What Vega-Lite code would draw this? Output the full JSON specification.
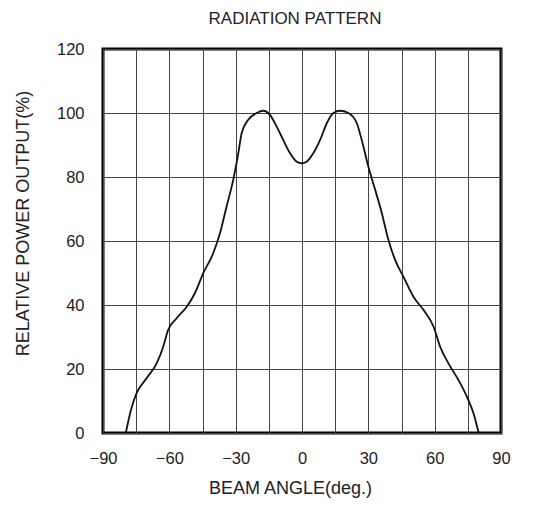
{
  "$schema": "https://vega.github.io/schema/vega-lite/v6.json",
  "width": 398,
  "height": 384,
  "autosize": {"type": "none"},
  "padding": {"left": 103, "top": 49, "right": 37, "bottom": 72},
  "background": "white",
  "config": {
    "font": "Liberation Sans, Arial",
    "view": {"stroke": "#000", "strokeWidth": 3},
    "axis": {"domain": false, "ticks": false, "gridColor": "#444", "gridOpacity": 1, "gridWidth": 1, "labelFont": "Liberation Sans, Arial", "labelFontSize": 16.5, "labelColor": "#222", "titleFont": "Liberation Sans, Arial", "titleFontSize": 18, "titleFontWeight": "normal", "titleColor": "#222"}
  },
  "title": {"text": "RADIATION PATTERN", "fontSize": 17, "fontWeight": "normal", "color": "#222", "font": "Liberation Sans, Arial", "offset": 13, "dx": -7},
  "data": {"values": [
    {"angle": -79.7, "power": 0},
    {"angle": -77.2, "power": 7.6},
    {"angle": -74.9, "power": 12.3},
    {"angle": -70.4, "power": 17},
    {"angle": -65.8, "power": 21.7},
    {"angle": -62.8, "power": 26.9},
    {"angle": -60.6, "power": 32.1},
    {"angle": -56.8, "power": 35.8},
    {"angle": -52.2, "power": 39.4},
    {"angle": -48.5, "power": 43.6},
    {"angle": -44.7, "power": 49.9},
    {"angle": -40.2, "power": 56.1},
    {"angle": -37.1, "power": 62.4},
    {"angle": -34.1, "power": 70.8},
    {"angle": -31.1, "power": 79.1},
    {"angle": -28.8, "power": 87.4},
    {"angle": -27.3, "power": 93.7},
    {"angle": -24.3, "power": 97.9},
    {"angle": -20.5, "power": 100},
    {"angle": -17.5, "power": 100.7},
    {"angle": -14.5, "power": 99.4},
    {"angle": -11.5, "power": 95.8},
    {"angle": -8.5, "power": 91.6},
    {"angle": -5.4, "power": 87.4},
    {"angle": -2.4, "power": 84.8},
    {"angle": -0.1, "power": 84.3},
    {"angle": 2.1, "power": 84.8},
    {"angle": 5.1, "power": 87.4},
    {"angle": 8.2, "power": 91.6},
    {"angle": 11.2, "power": 96.8},
    {"angle": 14.2, "power": 100},
    {"angle": 17.2, "power": 100.7},
    {"angle": 21, "power": 100},
    {"angle": 24.8, "power": 96.8},
    {"angle": 27, "power": 91.6},
    {"angle": 30, "power": 83.3},
    {"angle": 33.1, "power": 76},
    {"angle": 36.1, "power": 68.7},
    {"angle": 39.1, "power": 60.3},
    {"angle": 42.1, "power": 54.1},
    {"angle": 45.9, "power": 48.8},
    {"angle": 50.4, "power": 42.6},
    {"angle": 55, "power": 38.4},
    {"angle": 59.5, "power": 33.2},
    {"angle": 62.5, "power": 26.9},
    {"angle": 66.3, "power": 21.7},
    {"angle": 70.8, "power": 16.5},
    {"angle": 74.6, "power": 11.3},
    {"angle": 77.6, "power": 6.1},
    {"angle": 79.9, "power": 0}
  ]},
  "layer": [
    {
      "mark": {"type": "line", "color": "#111", "strokeWidth": 1.8, "interpolate": "monotone"},
      "encoding": {
        "x": {"field": "angle", "type": "quantitative", "scale": {"domain": [-90, 90], "nice": false},
          "axis": {"title": "BEAM ANGLE(deg.)", "values": [-90, -75, -60, -45, -30, -15, 0, 15, 30, 45, 60, 75, 90], "labelFlush": false, "labelOverlap": false, "labelPadding": 17, "labelExpr": "datum.value % 30 == 0 ? replace(datum.label, '-', '\u2212') : ''", "titleX": 187, "titleY": 55, "titleBaseline": "middle", "titleAlign": "center"}},
        "y": {"field": "power", "type": "quantitative", "scale": {"domain": [0, 120], "nice": false},
          "axis": {"title": "RELATIVE POWER OUTPUT(%)", "values": [0, 20, 40, 60, 80, 100, 120], "labelFlush": false, "labelPadding": 19, "titleX": -80, "titleY": 174, "titleBaseline": "middle", "titleAlign": "center", "titleAngle": -90}}
      }
    }
  ]
}
